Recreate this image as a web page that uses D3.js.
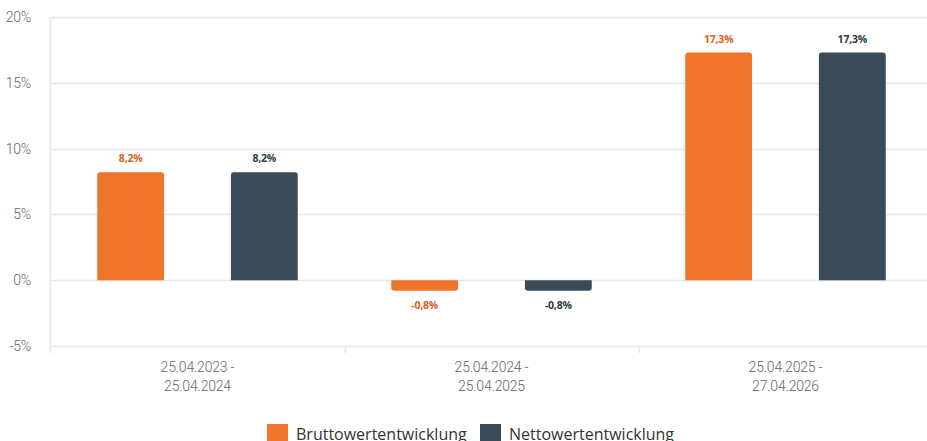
<!DOCTYPE html>
<html>
<head>
<meta charset="utf-8">
<script src="https://cdn.jsdelivr.net/npm/d3@7"></script>
<style>
  body { margin: 0; background: #fff; }
  svg { display: block; }
  .tick-label { font-family: Roboto, "Open Sans", sans-serif; font-weight: 300; font-size: 14px; fill: #666; letter-spacing: -0.2px; }
  .val { font-family: "Open Sans", sans-serif; font-size: 10.5px; font-weight: 700; letter-spacing: -0.2px; }
  .legend { font-family: "Open Sans", sans-serif; font-size: 16px; fill: #333; }
</style>
</head>
<body>
<div id="chart"></div>
<script>
// data
const periods = [["25.04.2023 -", "25.04.2024"], ["25.04.2024 -", "25.04.2025"], ["25.04.2025 -", "27.04.2026"]];
const seriesNames = ["Bruttowertentwicklung", "Nettowertentwicklung"];
const brutto = [8.2, -0.8, 17.3];
const netto = [8.2, -0.8, 17.3];
const yTicks = [-5, 0, 5, 10, 15, 20];

const colors = ["#ef752a", "#3a4a56"];
const labelColors = ["#e0601a", "#2b3a44"];

const width = 927, height = 441;
const svg = d3.select("#chart").append("svg")
  .attr("width", width)
  .attr("height", height);

let y = d3.scaleLinear().domain([-5, 20]).range([346, 17]);
let x = d3.scaleBand().domain(d3.range(periods.length)).range([50.5, 932.5]);
let xSub = d3.scaleBand().domain([0, 1]).range([0, x.bandwidth()]).paddingInner(0.5).paddingOuter(0.35);

// gridlines
svg.append("g").selectAll("line").data(yTicks).enter().append("line")
  .attr("x1", 50).attr("x2", width)
  .attr("y1", d => Math.round(y(d)) + 0.5).attr("y2", d => Math.round(y(d)) + 0.5)
  .attr("stroke", "#e6e6e6").attr("stroke-width", 1.5);

// y labels
svg.append("g").selectAll("text").data(yTicks).enter().append("text")
  .attr("class", "tick-label")
  .attr("x", 31).attr("y", d => y(d) + 5)
  .attr("text-anchor", "end")
  .text(d => d + "%");

// left axis line
svg.append("line")
  .attr("x1", 50.5).attr("x2", 50.5).attr("y1", 17).attr("y2", 353)
  .attr("stroke", "#e6e6e6").attr("stroke-width", 1.5);

// category separators
svg.append("g").selectAll("line").data(d3.range(1, periods.length)).enter().append("line")
  .attr("x1", d => Math.round(x(d)) + 0.5).attr("x2", d => Math.round(x(d)) + 0.5)
  .attr("y1", 346).attr("y2", 353)
  .attr("stroke", "#e6e6e6").attr("stroke-width", 1.5);

// x labels
let xl = svg.append("g").selectAll("text").data(periods).enter().append("text")
  .attr("class", "tick-label")
  .attr("text-anchor", "middle")
  .attr("x", (d, i) => x(i) + x.bandwidth() / 2)
  .attr("y", 372);
xl.append("tspan").text(d => d[0]);
xl.append("tspan").attr("x", (d, i) => x(i) + x.bandwidth() / 2).attr("dy", 19).text(d => d[1]);

// bar path with rounded corners on the value end
function barPath(x0, w, v) {
  let r = 3;
  let y0 = y(0), y1 = y(v);
  if (v >= 0) {
    return `M${x0},${y0} V${y1 + r} Q${x0},${y1} ${x0 + r},${y1} H${x0 + w - r} Q${x0 + w},${y1} ${x0 + w},${y1 + r} V${y0} Z`;
  }
  return `M${x0},${y0} V${y1 - r} Q${x0},${y1} ${x0 + r},${y1} H${x0 + w - r} Q${x0 + w},${y1} ${x0 + w},${y1 - r} V${y0} Z`;
}

const allSeries = [brutto, netto];
let fmt = v => v.toFixed(1).replace(".", ",") + "%";

allSeries.forEach((vals, s) => {
  let g = svg.append("g");
  g.selectAll("path").data(vals).enter().append("path")
    .attr("d", (d, i) => barPath(x(i) + xSub(s), xSub.bandwidth(), d))
    .attr("fill", colors[s]);
  g.selectAll("text").data(vals).enter().append("text")
    .attr("class", "val")
    .attr("text-anchor", "middle")
    .attr("fill", labelColors[s])
    .attr("x", (d, i) => x(i) + xSub(s) + xSub.bandwidth() / 2)
    .attr("y", d => d >= 0 ? y(d) - 10 : y(d) + 18)
    .text(d => fmt(d));
});

// legend
let legend = svg.append("g").attr("transform", "translate(267,424)");
let lx = [0, 213];
seriesNames.forEach((n, i) => {
  legend.append("rect").attr("x", lx[i]).attr("y", 0).attr("width", 21).attr("height", 21).attr("fill", colors[i]);
  legend.append("text").attr("class", "legend").attr("x", lx[i] + 29).attr("y", 16).text(n);
});
</script>
</body>
</html>
